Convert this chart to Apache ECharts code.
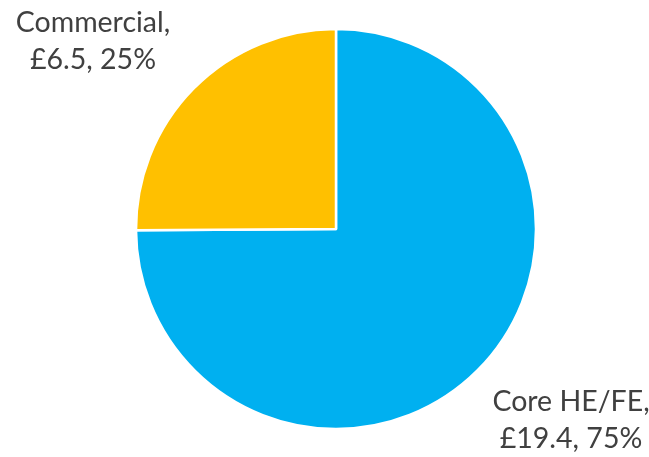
<!DOCTYPE html>
<html>
<head>
<meta charset="utf-8">
<script src="https://cdn.jsdelivr.net/npm/echarts@6/dist/echarts.min.js"></script>
<style>
  html, body { margin: 0; padding: 0; background: #fff; }
  #chart { width: 649px; height: 457px; }
</style>
</head>
<body>
<div id="chart"></div>
<script>
// Funding split (£m) by income stream
const categories = ['Core HE/FE', 'Commercial'];
const amounts = [19.4, 6.5];
const shares = [75, 25];
const colors = ['#00B0F0', '#FFC000'];

const data = categories.map((name, i) => ({
  name,
  value: amounts[i],
  share: shares[i],
  itemStyle: { color: colors[i] }
}));

// label anchor points (centre of each two-line label)
const labelSpots = [
  { x: 571, y: 420 },
  { x: 93, y: 41 }
];

const chart = echarts.init(document.getElementById('chart'), null, { renderer: 'canvas' });
chart.setOption({
  animation: false,
  series: [{
    type: 'pie',
    center: [336, 229],
    radius: 200,
    startAngle: 90,
    clockwise: true,
    avoidLabelOverlap: false,
    data,
    itemStyle: { borderColor: '#ffffff', borderWidth: 2.5 },
    label: {
      show: true,
      position: 'outside',
      formatter: p => p.name + ',\n£' + p.value + ', ' + p.data.share + '%',
      fontFamily: 'Lato',
      fontSize: 28.5,
      lineHeight: 37,
      color: '#404040',
      align: 'center',
      overflow: 'none',
      width: 300
    },
    labelLine: { show: false },
    labelLayout: p => ({
      x: labelSpots[p.dataIndex].x,
      y: labelSpots[p.dataIndex].y,
      align: 'center',
      verticalAlign: 'middle'
    }),
    emphasis: { disabled: true }
  }]
});
</script>
</body>
</html>
